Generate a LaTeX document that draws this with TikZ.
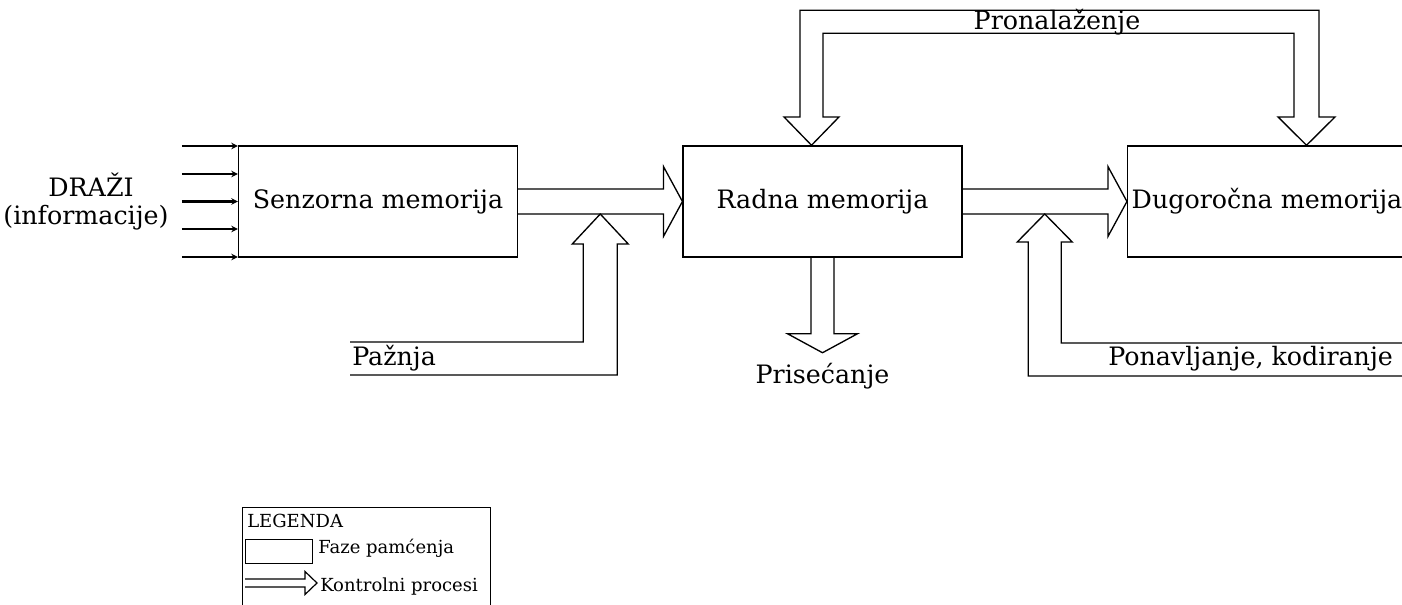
\documentclass[tikz,border=0pt]{standalone}
\usepackage{fontspec}
\setmainfont{DejaVu Serif}
\usetikzlibrary{arrows.meta,calc}

\newcommand\mainfs{\fontsize{19pt}{22pt}\selectfont}
\newcommand\legfs{\fontsize{13.5pt}{16pt}\selectfont}

\begin{document}
\begin{tikzpicture}[x=0.75pt,y=-0.75pt,line join=miter,
  phase/.style={draw,line width=1.1pt,minimum width=209pt,minimum height=83.25pt,
    inner sep=2pt,font=\mainfs},
  ctrl/.style={draw,line width=1pt},
  inarr/.style={line width=1.8pt,-{Stealth[length=5pt,width=5pt]}},
  lbl/.style={inner sep=0pt,font=\mainfs},
  leglbl/.style={inner sep=0pt,font=\legfs,anchor=base west}]
\useasboundingbox (0,0) rectangle (1402,605);
\clip (0,0) rectangle (1402,605);

% memory stages
\node[phase] (sens)  at (378,201.5)  {Senzorna memorija};
\node[phase] (radna) at (822.5,201.5) {Radna memorija};
\node[phase] (dug)   at (1267,201.5) {Dugoročna memorija};

% stimuli
\node[lbl,anchor=base] (drazi) at (91,196.5) {DRAŽI};
\node[lbl,anchor=base] (info)  at (86,225) {(informacije)};
\foreach \yy in {-55.5,-27.5,0,27.5,55.5}
  \draw[inarr] ($(sens.west)+(-56,\yy)$) -- ($(sens.west)+(0,\yy)$);

% sensory -> working memory
\draw[ctrl] ($(sens.east)+(0,-12.5)$) -- ($(radna.west)+(-19,-12.5)$)
  -- ($(radna.west)+(-19,-35)$) -- (radna.west) -- ($(radna.west)+(-19,35)$)
  -- ($(radna.west)+(-19,12.5)$) -- ($(sens.east)+(0,12.5)$);

% working -> long-term memory
\draw[ctrl] ($(radna.east)+(0,-12.5)$) -- ($(dug.west)+(-19,-12.5)$)
  -- ($(dug.west)+(-19,-35)$) -- (dug.west) -- ($(dug.west)+(-19,35)$)
  -- ($(dug.west)+(-19,12.5)$) -- ($(radna.east)+(0,12.5)$);

% attention
\coordinate (pz) at ($(sens.east)!.5!(radna.west)+(0,12.5)$);
\coordinate (pzIn) at (350,342);
\coordinate (pzOut) at (350,375);
\draw[ctrl] (pzIn) -| ($(pz)+(-17,30)$) -- ($(pz)+(-28,30)$) -- (pz)
  -- ($(pz)+(28,30)$) -- ($(pz)+(17,30)$) |- (pzOut);
\node[lbl,anchor=base west] (paznja) at (352,366) {Pažnja};

% rehearsal, encoding
\coordinate (pn) at ($(radna.east)!.5!(dug.west)+(0,12.5)$);
\coordinate (pnIn) at (1404,343);
\coordinate (pnOut) at (1404,376);
\draw[ctrl] (pnIn) -| ($(pn)+(16.5,28)$) -- ($(pn)+(27.5,28)$) -- (pn)
  -- ($(pn)+(-27.5,28)$) -- ($(pn)+(-16.5,28)$) |- (pnOut);
\node[lbl,anchor=base west] (ponav) at (1108,366) {Ponavljanje, kodiranje};

% recall
\draw[ctrl] ($(radna.south)+(-11.5,0)$) -- ($(radna.south)+(-11.5,76)$)
  -- ($(radna.south)+(-35,76)$) -- ($(radna.south)+(0,95)$)
  -- ($(radna.south)+(35,76)$) -- ($(radna.south)+(11.5,76)$)
  -- ($(radna.south)+(11.5,0)$);
\node[lbl,anchor=base] (prisec) at (822.5,384) {Prisećanje};

% retrieval
\coordinate (prL) at ($(radna.north)+(-11,0)$);
\coordinate (prR) at ($(dug.north)+(39.5,0)$);
\draw[ctrl] ($(prL)+(11.5,-28.3)$) -- ($(prL)+(27.5,-28.3)$) -- (prL)
  -- ($(prL)+(-27.5,-28.3)$) -- ($(prL)+(-11.5,-28.3)$)
  |- ($(prR)+(12.5,-135)$) -- ($(prR)+(12.5,-28.3)$) -- ($(prR)+(28.5,-28.3)$)
  -- (prR) -- ($(prR)+(-28.5,-28.3)$) -- ($(prR)+(-12.5,-28.3)$)
  |- ($(prL)+(11.5,-112)$) -- cycle;
\node[lbl,anchor=base] (pron) at (1057,30) {Pronalaženje};

% legend
\node[draw,line width=0.9pt,anchor=north west,minimum width=186pt,minimum height=90pt,
  inner sep=0pt] (legend) at (242,507) {};
\node[leglbl] (legtitle) at (247,527) {LEGENDA};
\node[draw,line width=0.9pt,anchor=north west,minimum width=50pt,minimum height=18pt,
  inner sep=0pt] (legbox) at (245,539) {};
\node[leglbl] (legphase) at (318,553) {Faze pamćenja};
\coordinate (legA) at (245,583);
\coordinate (legTip) at (317,583);
\draw[line width=0.9pt] ($(legA)+(0,-4)$) -- ($(legTip)+(-12,-4)$) -- ($(legTip)+(-12,-11.5)$)
  -- (legTip) -- ($(legTip)+(-12,11.5)$) -- ($(legTip)+(-12,4)$) -- ($(legA)+(0,4)$);
\node[leglbl] (legctrl) at (320,591) {Kontrolni procesi};
\end{tikzpicture}
\end{document}
